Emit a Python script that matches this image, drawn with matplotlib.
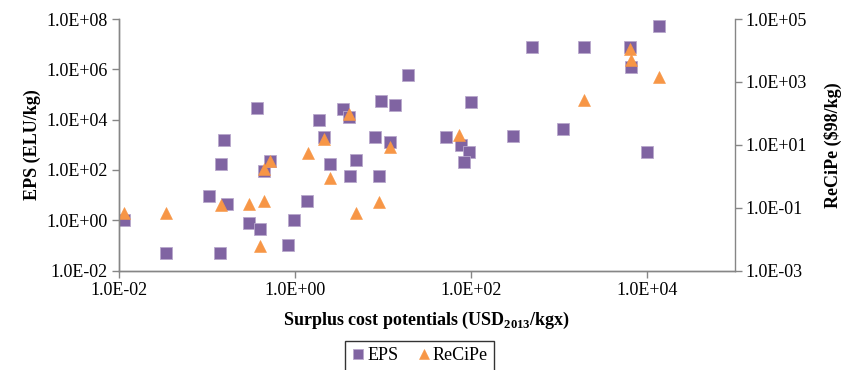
import numpy as np
import matplotlib
matplotlib.use('Agg')
import matplotlib.pyplot as plt
from matplotlib.ticker import FixedLocator, FuncFormatter, NullLocator

plt.rcParams['font.family'] = 'Liberation Serif'
plt.rcParams['mathtext.fontset'] = 'custom'
plt.rcParams['mathtext.rm'] = 'Liberation Serif:bold'
plt.rcParams['mathtext.bf'] = 'Liberation Serif:bold'

#%% data
eps_x = [0.0113, 0.034, 0.106, 0.139, 0.143, 0.156, 0.171, 0.30, 0.37, 0.40,
         0.45, 0.52, 0.83, 0.98, 1.38, 1.88, 2.14, 2.53, 3.49, 4.13,
         4.28, 5.0, 8.24, 9.14, 9.57, 12.2, 13.9, 19.4, 52.6, 76.6,
         95.7, 82.8, 100, 305, 501, 1112, 1963, 6486, 6730, 10230, 13870]
eps_y = [1.02, 0.051, 9.4, 0.051, 177, 1545, 4.53, 0.80, 29700, 0.45,
         93, 226, 0.10, 0.99, 5.8, 9900, 2090, 167, 26400, 12300,
         57, 255, 2090, 57, 55000, 1250, 37100, 610000, 2090, 977,
         530, 212, 48800, 2170, 7.7e6, 4110, 7.7e6, 7.7e6, 1.2e6, 530, 5.27e7]

recipe_x = [0.0113, 0.034, 0.143, 0.30, 0.45, 0.40, 0.45, 0.52, 1.40, 2.14,
            2.53, 4.13, 5.0, 9.14, 12.2, 74, 1963, 6486, 6730, 13870]
recipe_y = [0.068, 0.070, 0.119, 0.131, 0.163, 0.0062, 1.67, 3.0, 5.3, 14.8,
            0.85, 92, 0.070, 0.152, 8.6, 20.2, 263, 11300, 4940, 1420]

x_ticks = [1e-2, 1e0, 1e2, 1e4]
eps_ticks = [1e-2, 1e0, 1e2, 1e4, 1e6, 1e8]
recipe_ticks = [1e-3, 1e-1, 1e1, 1e3, 1e5]

purple = '#8064A2'
orange = '#F79646'
grey = '#868686'

#%% plot
fig = plt.figure(figsize=(8.41, 3.70), dpi=100)
ax = fig.add_axes([0.1415, 0.2689, 0.7319, 0.6797])
ax2 = ax.twinx()

ax.plot(eps_x, eps_y, 's', ms=9, color=purple, mec='#b8a8cc', mew=0.6, label='EPS')
ax2.plot(recipe_x, recipe_y, '^', ms=9, color=orange, mec=orange, mew=0.4, label='ReCiPe')

ax.set_xscale('log')
ax.set_yscale('log')
ax2.set_yscale('log')
ax.set_xlim(1e-2, 1e5)
ax.set_ylim(1e-2, 1e8)
ax2.set_ylim(1e-3, 1e5)

fmt = FuncFormatter(lambda v, p: '%.1E' % v)
ax.xaxis.set_major_locator(FixedLocator(x_ticks))
ax.yaxis.set_major_locator(FixedLocator(eps_ticks))
ax2.yaxis.set_major_locator(FixedLocator(recipe_ticks))
for a in (ax.xaxis, ax.yaxis, ax2.yaxis):
    a.set_major_formatter(fmt)
    a.set_minor_locator(NullLocator())

for a in (ax, ax2):
    a.spines['top'].set_visible(False)
    for s in ('left', 'right', 'bottom'):
        a.spines[s].set_color(grey)
        a.spines[s].set_linewidth(1)
    a.tick_params(axis='both', which='major', direction='out', length=5,
                  width=1, color=grey, labelsize=13, pad=3)
ax.spines['right'].set_visible(False)

ax.set_ylabel('EPS (ELU/kg)', fontsize=13, fontweight='bold', labelpad=4)
ax2.set_ylabel(r'ReCiPe (\$98/kg)', fontsize=13, fontweight='bold', labelpad=12)
ax.set_xlabel(r'Surplus cost potentials (USD$_{\mathbf{2013}}$/kgx)', fontsize=13,
              fontweight='bold', labelpad=8)

h1, l1 = ax.get_legend_handles_labels()
h2, l2 = ax2.get_legend_handles_labels()
leg = fig.legend(h1 + h2, l1 + l2, loc='upper center', bbox_to_anchor=(0.4988, 0.0784),
                 ncol=2, fontsize=13, frameon=True, fancybox=False, borderaxespad=0,
                 handlelength=0.8, handletextpad=0.1, columnspacing=1.0,
                 borderpad=0.35, markerscale=0.85)
leg.get_frame().set_edgecolor('black')
leg.get_frame().set_linewidth(1)

fig.savefig('out.png', dpi=100)
